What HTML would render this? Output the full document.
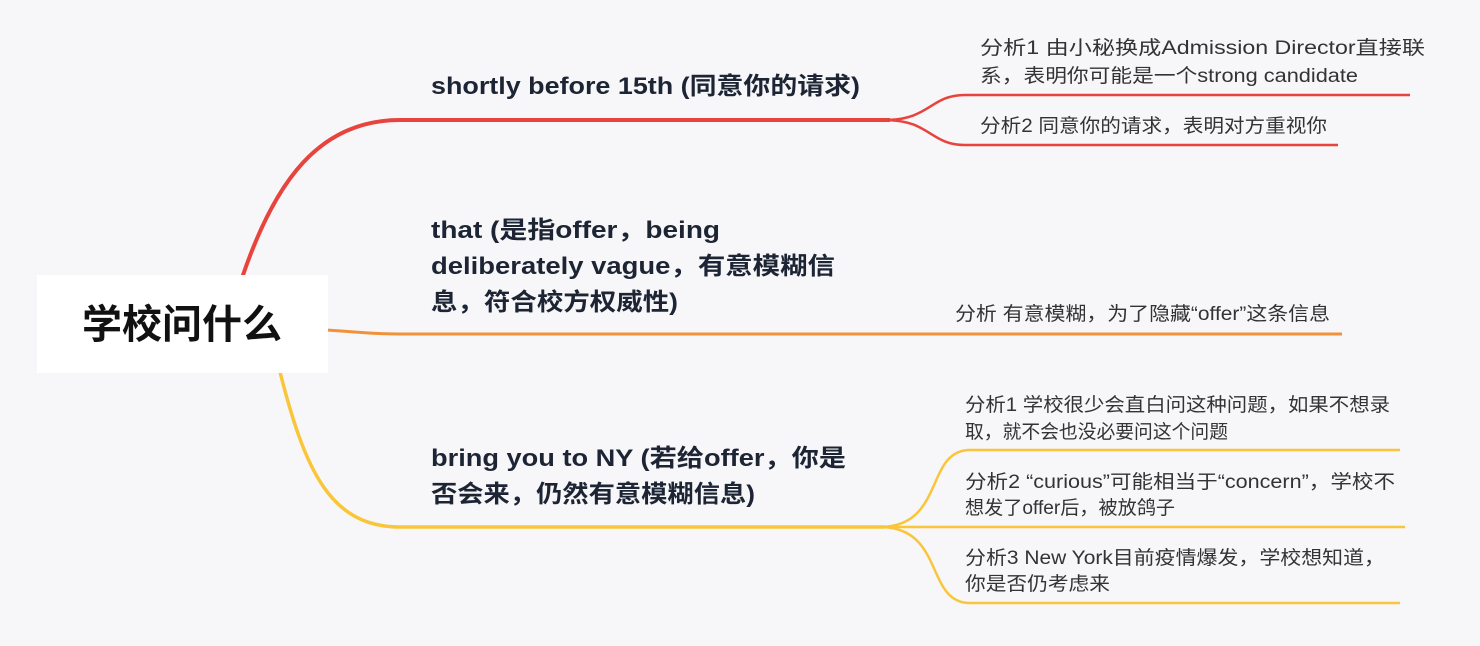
<!DOCTYPE html>
<html><head><meta charset="utf-8"><style>
html,body{margin:0;padding:0;background:#f7f7f9;}
svg{display:block}
.b{font-family:"Liberation Sans","Noto Sans CJK SC",sans-serif;font-weight:bold;font-size:24px;fill:#1d2535}
.l{font-family:"Liberation Sans","Noto Sans CJK SC",sans-serif;font-size:19px;fill:#333}
</style></head><body>
<svg width="1480" height="646" viewBox="0 0 1480 646" xmlns="http://www.w3.org/2000/svg">
<rect width="1480" height="646" fill="#f7f7f9"/>
<!-- red branch -->
<path d="M242,278 C275,180 320,120 400,120 L890,120" fill="none" stroke="#e8433c" stroke-width="4"/>
<path d="M885,120 C930,120 930,95 965,95 L1410,95" fill="none" stroke="#e8433c" stroke-width="2.5"/>
<path d="M885,120 C930,120 930,145 965,145 L1338,145" fill="none" stroke="#e8433c" stroke-width="2.5"/>
<!-- orange -->
<path d="M326,330 C360,332 370,334 400,334 L1342,334" fill="none" stroke="#f0923a" stroke-width="3"/>
<!-- yellow -->
<path d="M280,372 C305,470 330,527 400,527 L885,527" fill="none" stroke="#f9c53a" stroke-width="3.5"/>
<path d="M880,527 C945,527 925,450 970,450 L1400,450" fill="none" stroke="#f9c53a" stroke-width="2.5"/>
<path d="M880,527 L1405,527" fill="none" stroke="#f9c53a" stroke-width="2.5"/>
<path d="M880,527 C945,527 925,603 970,603 L1400,603" fill="none" stroke="#f9c53a" stroke-width="2.5"/>
<!-- center -->
<rect x="37" y="275" width="291" height="98" fill="#fff"/>
<text x="182" y="338" text-anchor="middle" style="font-family:'Liberation Sans','Noto Sans CJK SC',sans-serif;font-weight:bold;font-size:40px;fill:#111">学校问什么</text>
<!-- branch labels -->
<text class="b" x="431" y="94" textLength="429" lengthAdjust="spacingAndGlyphs">shortly before 15th (同意你的请求)</text>
<text class="b" x="431" y="238" textLength="289" lengthAdjust="spacingAndGlyphs">that (是指offer，being</text>
<text class="b" x="431" y="274" textLength="404" lengthAdjust="spacingAndGlyphs">deliberately vague，有意模糊信</text>
<text class="b" x="431" y="310" textLength="247" lengthAdjust="spacingAndGlyphs">息，符合校方权威性)</text>
<text class="b" x="431" y="466" textLength="415" lengthAdjust="spacingAndGlyphs">bring you to NY (若给offer，你是</text>
<text class="b" x="431" y="502" textLength="324" lengthAdjust="spacingAndGlyphs">否会来，仍然有意模糊信息)</text>
<!-- leaves -->
<text class="l" x="980" y="54" textLength="445" lengthAdjust="spacingAndGlyphs">分析1  由小秘换成Admission Director直接联</text>
<text class="l" x="980" y="82" textLength="378" lengthAdjust="spacingAndGlyphs">系，表明你可能是一个strong candidate</text>
<text class="l" x="980" y="132" textLength="347" lengthAdjust="spacingAndGlyphs">分析2 同意你的请求，表明对方重视你</text>
<text class="l" x="955" y="320" textLength="375" lengthAdjust="spacingAndGlyphs">分析 有意模糊，为了隐藏“offer”这条信息</text>
<text class="l" x="965" y="411" textLength="425" lengthAdjust="spacingAndGlyphs">分析1 学校很少会直白问这种问题，如果不想录</text>
<text class="l" x="965" y="438" textLength="263" lengthAdjust="spacingAndGlyphs">取，就不会也没必要问这个问题</text>
<text class="l" x="965" y="488" textLength="430" lengthAdjust="spacingAndGlyphs">分析2 “curious”可能相当于“concern”，学校不</text>
<text class="l" x="965" y="514" textLength="210" lengthAdjust="spacingAndGlyphs">想发了offer后，被放鸽子</text>
<text class="l" x="965" y="564" textLength="420" lengthAdjust="spacingAndGlyphs">分析3 New York目前疫情爆发，学校想知道，</text>
<text class="l" x="965" y="590" textLength="145" lengthAdjust="spacingAndGlyphs">你是否仍考虑来</text>
</svg>
</body></html>
